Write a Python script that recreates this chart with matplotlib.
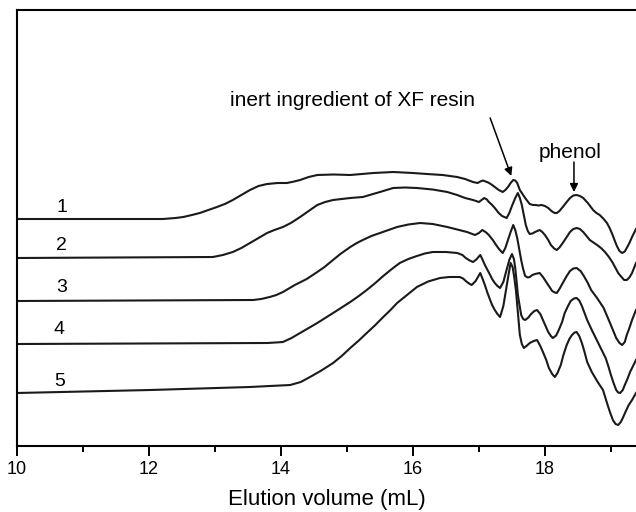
import matplotlib
matplotlib.use("Agg")
import matplotlib.pyplot as plt
from matplotlib.ticker import MultipleLocator

plt.rcParams["font.family"] = ["Liberation Sans", "DejaVu Sans"]

# elution volume (mL) and detector response (a.u.)
X1 = [10.00, 12.21, 12.40, 12.52, 12.65, 12.77, 12.90, 13.03, 13.15, 13.27, 13.40, 13.53,
      13.66, 13.79, 13.95, 14.09, 14.20, 14.29, 14.42, 14.55, 14.80, 15.05, 15.40, 15.70,
      16.00, 16.21, 16.45, 16.67, 16.79, 16.91, 16.98, 17.02, 17.06, 17.10, 17.14, 17.19,
      17.24, 17.30, 17.36, 17.40, 17.44, 17.48, 17.52, 17.55, 17.58, 17.62, 17.66, 17.70,
      17.74, 17.77, 17.82, 17.86, 17.90, 17.95, 18.00, 18.05, 18.09, 18.12, 18.15, 18.18,
      18.22, 18.27, 18.33, 18.38, 18.43, 18.48, 18.53, 18.58, 18.65, 18.73, 18.78, 18.83,
      18.89, 18.94, 18.98, 19.02, 19.06, 19.09, 19.13, 19.17, 19.21, 19.24, 19.28, 19.32,
      19.35, 19.38]
Y1 = [227, 227, 228, 229, 231, 233, 236, 239, 242, 246, 251, 256,
      260, 262, 263, 263, 264.5, 266, 269, 271, 271.5, 271, 273, 274,
      273, 272, 271, 269, 267, 264, 263, 264.5, 265.5, 264.5, 263.5, 261.5,
      259, 256, 254, 256, 259, 263, 266, 265.5, 263, 256, 252, 248,
      244.5, 242, 241, 241, 240.5, 241, 240, 238, 235.5, 234, 233, 233,
      235, 239, 244, 248, 250.5, 251, 250, 248, 243, 236, 233, 231,
      227, 223, 218, 212, 205, 200, 195, 193, 194.5, 198, 203, 209,
      213, 217]

X2 = [10.00, 12.97, 13.12, 13.27, 13.40, 13.53, 13.66, 13.79, 13.90, 14.03, 14.15, 14.29,
      14.42, 14.55, 14.67, 14.79, 15.05, 15.24, 15.37, 15.50, 15.70, 15.88, 16.06, 16.30,
      16.52, 16.67, 16.79, 16.91, 17.00, 17.04, 17.08, 17.12, 17.15, 17.20, 17.24, 17.30,
      17.35, 17.42, 17.46, 17.50, 17.55, 17.59, 17.62, 17.65, 17.68, 17.71, 17.74, 17.77,
      17.81, 17.85, 17.92, 17.96, 18.00, 18.05, 18.09, 18.14, 18.18, 18.22, 18.27, 18.33,
      18.38, 18.43, 18.48, 18.53, 18.58, 18.68, 18.79, 18.85, 18.91, 18.97, 19.02, 19.07,
      19.11, 19.16, 19.20, 19.24, 19.28, 19.32, 19.35, 19.38]
Y2 = [188, 189, 191, 194, 198, 203, 208, 213, 216, 219, 223, 229,
      235, 241, 244, 246, 248, 249, 251.5, 254, 258, 258.5, 258, 256.5,
      254, 251, 248, 246, 244, 246, 248, 246.5, 244, 241, 238, 233,
      230, 228, 233, 240, 248, 253, 248, 241, 231, 221, 215, 212,
      212.5, 214, 216, 214, 211, 206, 201, 197.5, 196, 198.5, 203, 209,
      214, 217, 218, 217, 214, 206, 201, 198, 194, 189, 184, 178,
      173, 169, 166, 166, 168.5, 173, 178, 183]

X3 = [10.00, 13.58, 13.70, 13.83, 13.93, 14.03, 14.12, 14.21, 14.30, 14.39, 14.47, 14.55,
      14.66, 14.77, 14.90, 15.05, 15.15, 15.24, 15.37, 15.50, 15.63, 15.76, 15.93, 16.11,
      16.30, 16.52, 16.67, 16.82, 16.88, 16.94, 17.00, 17.05, 17.10, 17.15, 17.21, 17.26,
      17.31, 17.36, 17.40, 17.44, 17.48, 17.52, 17.55, 17.58, 17.61, 17.64, 17.67, 17.70,
      17.74, 17.77, 17.81, 17.85, 17.92, 17.97, 18.02, 18.07, 18.11, 18.15, 18.18, 18.22,
      18.27, 18.33, 18.38, 18.43, 18.48, 18.54, 18.59, 18.65, 18.70, 18.79, 18.89, 18.98,
      19.03, 19.08, 19.13, 19.17, 19.21, 19.24, 19.28, 19.32, 19.38]
Y3 = [145, 146, 147, 149, 151, 154, 157.5, 161, 164, 167, 170.5, 174,
      179, 185, 192, 199, 203, 206, 210, 213, 216, 219, 221.5, 223,
      222, 219, 216.5, 214, 212.5, 211, 213, 216, 214, 211, 206, 201,
      196.5, 193, 198, 206, 214, 221, 216, 208, 197, 186, 177, 170,
      168.5, 169, 171, 172, 173, 169, 164, 159, 155, 153.5, 153, 157,
      163, 170, 175, 177.5, 178, 175, 170, 163, 156, 148, 138, 124,
      116, 108, 103, 101, 104, 111, 118, 126, 136]

X4 = [10.00, 13.79, 13.92, 14.03, 14.16, 14.29, 14.42, 14.55, 14.67, 14.79, 14.92, 15.05,
      15.18, 15.30, 15.43, 15.55, 15.68, 15.80, 15.93, 16.06, 16.18, 16.30, 16.50, 16.67,
      16.75, 16.80, 16.86, 16.91, 16.96, 17.02, 17.05, 17.09, 17.13, 17.17, 17.20, 17.24,
      17.28, 17.32, 17.37, 17.41, 17.46, 17.50, 17.53, 17.55, 17.57, 17.59, 17.62, 17.64,
      17.67, 17.70, 17.75, 17.79, 17.84, 17.88, 17.93, 17.97, 18.01, 18.05, 18.09, 18.12,
      18.17, 18.21, 18.26, 18.30, 18.35, 18.39, 18.44, 18.48, 18.52, 18.56, 18.60, 18.64,
      18.71, 18.77, 18.83, 18.92, 18.96, 19.00, 19.04, 19.08, 19.11, 19.14, 19.18, 19.21,
      19.25, 19.29, 19.38]
Y4 = [102, 103, 103.5, 104, 108, 113, 118, 123, 128, 133, 138.5, 144,
      150, 156, 163, 170, 177, 183, 187, 190, 192.5, 194, 194, 193,
      191, 188, 185.5, 184, 186.5, 191, 187, 181, 176, 171, 167, 163,
      160, 158, 164, 174, 186, 192, 187, 178, 165, 151, 139, 131,
      127, 126, 128.5, 132, 135, 136, 132, 126, 120, 114, 110, 108,
      110.5, 116, 124, 133, 140, 145, 147.5, 148, 145.5, 140, 133, 126,
      116, 108, 100, 88, 80, 71, 63, 56, 53.5, 53, 56, 61,
      67, 74, 86]

X5 = [10.00, 12.02, 13.53, 14.14, 14.30, 14.44, 14.60, 14.79, 14.92, 15.05, 15.18, 15.30,
      15.43, 15.55, 15.66, 15.76, 15.91, 16.06, 16.23, 16.41, 16.55, 16.71, 16.76, 16.80,
      16.85, 16.89, 16.95, 17.02, 17.05, 17.09, 17.13, 17.17, 17.20, 17.24, 17.28, 17.32,
      17.37, 17.41, 17.45, 17.48, 17.51, 17.53, 17.56, 17.58, 17.60, 17.62, 17.65, 17.68,
      17.72, 17.77, 17.83, 17.88, 17.93, 17.97, 18.02, 18.06, 18.11, 18.15, 18.19, 18.24,
      18.28, 18.33, 18.37, 18.41, 18.45, 18.48, 18.52, 18.56, 18.60, 18.64, 18.71, 18.80,
      18.88, 18.95, 18.99, 19.03, 19.07, 19.11, 19.15, 19.18, 19.22, 19.27, 19.32, 19.38]
Y5 = [53, 56, 59, 61, 64, 69, 75, 83, 90, 98, 105.5, 113,
      121, 129, 136, 143, 151, 159, 164.5, 168, 169, 169, 167.5, 165,
      162.5, 161, 165, 173, 168, 161, 153, 146, 141, 136, 132, 129,
      140, 156, 172, 183, 179, 171, 156, 141, 126, 111, 102, 98,
      100, 103, 105, 106, 100, 94, 86, 78, 72, 69, 73, 81,
      91, 101, 107, 111, 113.5, 114, 110, 103, 94, 84, 74, 64,
      56, 41, 33, 26, 22, 21, 24, 28, 34, 41, 46, 53]

CURVE_LABELS = ["1", "2", "3", "4", "5"]
LABEL_X = [10.68, 10.68, 10.67, 10.64, 10.64]
LABEL_Y = [239, 201, 158, 116, 64]

XF_TEXT = "inert ingredient of XF resin"
PHENOL_TEXT = "phenol"

fig = plt.figure(figsize=(6.36, 5.12), dpi=100)
ax = fig.add_axes([17 / 636, 1 - 446 / 512, 1 - 17 / 636, 436 / 512])

for xs, ys in [(X1, Y1), (X2, Y2), (X3, Y3), (X4, Y4), (X5, Y5)]:
    ax.plot(xs, ys, color="#1a1a1a", linewidth=1.5, solid_joinstyle="round")

for label, lx, ly in zip(CURVE_LABELS, LABEL_X, LABEL_Y):
    ax.text(lx, ly, label, fontsize=14, ha="center", va="center")

arrow = dict(arrowstyle="-|>", color="black", lw=1.1, mutation_scale=12,
             shrinkA=0, shrinkB=0)
ax.text(15.09, 346, XF_TEXT, fontsize=15, ha="center", va="center")
ax.annotate("", xy=(17.49, 270), xytext=(17.17, 328), arrowprops=arrow)
ax.text(18.38, 294, PHENOL_TEXT, fontsize=15, ha="center", va="center")
ax.annotate("", xy=(18.44, 254), xytext=(18.44, 284), arrowprops=arrow)

ax.set_xlim(10, 19.38)
ax.set_ylim(0, 436)
ax.xaxis.set_major_locator(MultipleLocator(2))
ax.xaxis.set_minor_locator(MultipleLocator(1))
ax.tick_params(axis="x", which="major", direction="out", length=7, width=1.4,
               labelsize=13, pad=4)
ax.tick_params(axis="x", which="minor", direction="out", length=4, width=1.4)
ax.set_yticks([])
ax.spines["right"].set_visible(False)
for side in ["left", "bottom", "top"]:
    ax.spines[side].set_linewidth(1.5)
ax.set_xlabel("Elution volume (mL)", fontsize=16, labelpad=8)

fig.savefig("out.png", dpi=100, facecolor="white")
